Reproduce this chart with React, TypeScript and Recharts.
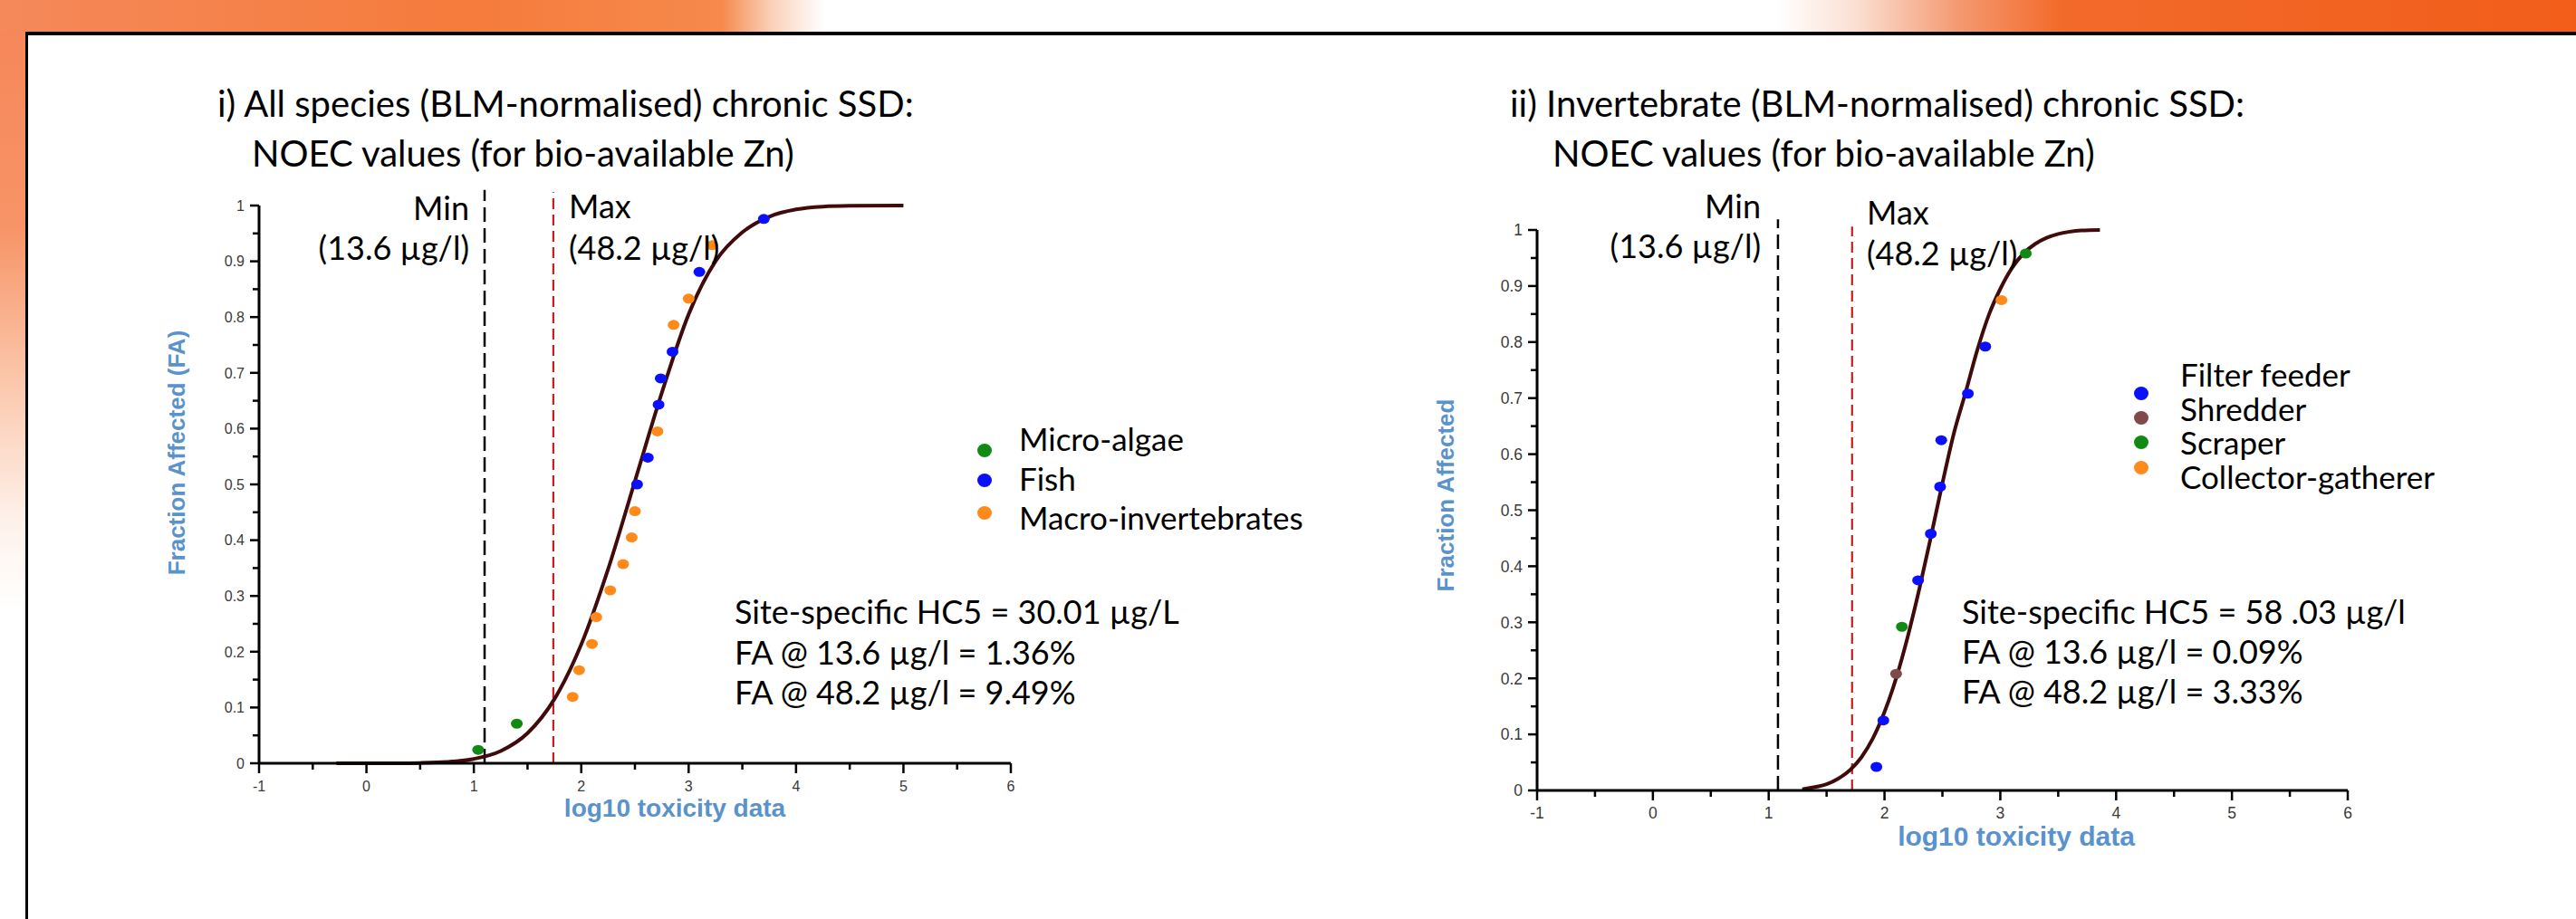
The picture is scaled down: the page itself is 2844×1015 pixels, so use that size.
import React from "react";
import { ComposedChart, Line, ReferenceLine, Scatter, XAxis, YAxis } from "recharts";

const X_TICKS = [-1, -0.5, 0, 0.5, 1, 1.5, 2, 2.5, 3, 3.5, 4, 4.5, 5, 5.5, 6];
const Y_TICKS = [
  0, 0.05, 0.1, 0.15, 0.2, 0.25, 0.3, 0.35, 0.4, 0.45, 0.5, 0.55, 0.6, 0.65, 0.7, 0.75, 0.8, 0.85,
  0.9, 0.95, 1,
];

// log10 of the min / max bio-available Zn, as drawn
const MIN_LOG = [1.1, 1.08];
const MAX_LOG = [1.74, 1.72];

// i) all species
const ALL_FIT_X = [-0.28, 0, 0.25, 0.5, 0.75, 1, 1.25, 1.5, 1.75, 2, 2.25, 2.5, 2.75, 3, 3.25, 3.5, 3.75, 4, 4.25, 4.5, 5];
const ALL_FIT_Y = [0, 0, 0.0001, 0.0006, 0.0024, 0.0078, 0.022, 0.054, 0.115, 0.213, 0.348, 0.506, 0.664, 0.805, 0.9, 0.952, 0.98, 0.993, 0.998, 0.9994, 1];
const ALGAE_X = [1.04, 1.4];
const ALGAE_Y = [0.024, 0.071];
const FISH_X = [2.52, 2.62, 2.72, 2.74, 2.85, 3.1, 3.7];
const FISH_Y = [0.5, 0.548, 0.643, 0.69, 0.738, 0.881, 0.976];
const MACRO_X = [1.92, 1.98, 2.1, 2.14, 2.27, 2.39, 2.47, 2.5, 2.71, 2.86, 3.0, 3.22];
const MACRO_Y = [0.119, 0.167, 0.214, 0.262, 0.31, 0.357, 0.405, 0.452, 0.595, 0.786, 0.833, 0.929];

// ii) invertebrates
const INV_FIT_X = [1.29, 1.4, 1.5, 1.6, 1.7, 1.8, 1.9, 2, 2.1, 2.2, 2.3, 2.4, 2.5, 2.6, 2.7, 2.8, 2.9, 3, 3.1, 3.2, 3.3, 3.4, 3.5, 3.6, 3.7, 3.86];
const INV_FIT_Y = [0.002, 0.006, 0.011, 0.021, 0.036, 0.059, 0.093, 0.14, 0.2, 0.274, 0.359, 0.452, 0.548, 0.638, 0.71, 0.785, 0.848, 0.895, 0.932, 0.958, 0.975, 0.986, 0.993, 0.997, 0.999, 1];
const FILTER_X = [1.93, 1.99, 2.29, 2.4, 2.48, 2.49, 2.72, 2.87];
const FILTER_Y = [0.042, 0.125, 0.375, 0.458, 0.542, 0.625, 0.708, 0.792];
const SHREDDER_X = [2.1];
const SHREDDER_Y = [0.208];
const SCRAPER_X = [2.15, 3.22];
const SCRAPER_Y = [0.292, 0.958];
const COLLECTOR_X = [3.01];
const COLLECTOR_Y = [0.875];

const GREEN = "#118a14";
const BLUE = "#0a10ff";
const ORANGE = "#ff8a1c";
const BROWN = "#7e4a4a";
const FIT = "#420b0b";
const AXIS_TITLE = "#5a92cc";
const TICK_TEXT = "#3a3a3a";
const TEXT_FONT = "Lato, 'Open Sans', sans-serif";
const TICK_FONT = "'Liberation Sans', Arial, sans-serif";
const AXIS_BOX = 60;

const pts = (xs: number[], ys: number[]) => xs.map((x, i) => ({ x, y: ys[i] }));

type Group = { name: string; color: string; xs: number[]; ys: number[] };

const ALL_GROUPS: Group[] = [
  { name: "Micro-algae", color: GREEN, xs: ALGAE_X, ys: ALGAE_Y },
  { name: "Fish", color: BLUE, xs: FISH_X, ys: FISH_Y },
  { name: "Macro-invertebrates", color: ORANGE, xs: MACRO_X, ys: MACRO_Y },
];
const INV_GROUPS: Group[] = [
  { name: "Filter feeder", color: BLUE, xs: FILTER_X, ys: FILTER_Y },
  { name: "Shredder", color: BROWN, xs: SHREDDER_X, ys: SHREDDER_Y },
  { name: "Scraper", color: GREEN, xs: SCRAPER_X, ys: SCRAPER_Y },
  { name: "Collector-gatherer", color: ORANGE, xs: COLLECTOR_X, ys: COLLECTOR_Y },
];

function XTick(p: any) {
  const v = p.payload.value;
  const major = Number.isInteger(v);
  return (
    <g>
      <line x1={p.x} x2={p.x} y1={p.axisY} y2={p.axisY + (major ? 11 : 7)} stroke="#000" strokeWidth={2.5} />
      {major && (
        <text x={p.x} y={p.axisY + 25} dy="0.36em" textAnchor="middle" fontSize={p.fs} fontFamily={TICK_FONT} fill={TICK_TEXT}>
          {String(v)}
        </text>
      )}
    </g>
  );
}

function YTick(p: any) {
  const v = p.payload.value;
  const major = Math.round(v * 100) % 10 === 0;
  const label = v === 0 ? "0" : v === 1 ? "1" : v.toFixed(1);
  return (
    <g>
      <line x1={p.axisX - (major ? 10 : 7)} x2={p.axisX} y1={p.y} y2={p.y} stroke="#000" strokeWidth={2.5} />
      {major && (
        <text x={p.axisX - 16} y={p.y} dy="0.36em" textAnchor="end" fontSize={p.fs} fontFamily={TICK_FONT} fill={TICK_TEXT}>
          {label}
        </text>
      )}
    </g>
  );
}

function Panel(props: {
  width: number;
  plot: { left: number; top: number; right: number; bottom: number };
  fitX: number[];
  fitY: number[];
  groups: Group[];
  minLog: number;
  minTop: number;
  maxLog: number;
  maxTop: number;
  fs: number;
}) {
  const { width, plot, fs } = props;
  const margin = {
    top: plot.top,
    left: plot.left - AXIS_BOX,
    right: width - plot.right,
    bottom: 1015 - plot.bottom - AXIS_BOX,
  };
  return (
    <ComposedChart width={width} height={1015} margin={margin}>
      <XAxis
        type="number"
        dataKey="x"
        domain={[-1, 6]}
        ticks={X_TICKS}
        interval={0}
        height={AXIS_BOX}
        axisLine={{ stroke: "#000", strokeWidth: 3 }}
        tickLine={false}
        tick={(p: any) => <XTick {...p} axisY={plot.bottom} fs={fs} />}
      />
      <YAxis
        type="number"
        dataKey="y"
        domain={[0, 1]}
        ticks={Y_TICKS}
        interval={0}
        width={AXIS_BOX}
        axisLine={{ stroke: "#000", strokeWidth: 3 }}
        tickLine={false}
        tick={(p: any) => <YTick {...p} axisX={plot.left} fs={fs} />}
      />
      <ReferenceLine
        segment={[{ x: props.minLog, y: 0 }, { x: props.minLog, y: props.minTop }]}
        stroke="#000"
        strokeWidth={2.5}
        strokeDasharray="16 7"
        ifOverflow="visible"
      />
      <ReferenceLine
        segment={[{ x: props.maxLog, y: 0 }, { x: props.maxLog, y: props.maxTop }]}
        stroke="#cc1b1b"
        strokeWidth={2.2}
        strokeDasharray="12 6"
        ifOverflow="visible"
      />
      <Line
        data={pts(props.fitX, props.fitY)}
        dataKey="y"
        type="monotone"
        stroke={FIT}
        strokeWidth={4}
        dot={false}
        activeDot={false}
        isAnimationActive={false}
      />
      {props.groups.map((g) => (
        <Scatter
          key={g.name}
          name={g.name}
          data={pts(g.xs, g.ys)}
          fill={g.color}
          isAnimationActive={false}
          shape={(s: any) => <ellipse cx={s.cx} cy={s.cy} rx={6.5} ry={5.5} fill={g.color} />}
        />
      ))}
    </ComposedChart>
  );
}

const abs = (s: React.CSSProperties): React.CSSProperties => ({ position: "absolute", whiteSpace: "nowrap", ...s });

function Lines({ lines, style }: { lines: string[]; style: React.CSSProperties }) {
  return (
    <div style={abs({ fontFamily: TEXT_FONT, color: "#000", ...style })}>
      {lines.map((l) => (
        <div key={l}>{l}</div>
      ))}
    </div>
  );
}

function LegendBox(props: { groups: Group[]; markerX: number; markerYs: number[]; textX: number; textTop: number; lineH: number }) {
  return (
    <>
      {props.groups.map((g, i) => (
        <div
          key={g.name}
          style={abs({ left: props.markerX - 8, top: props.markerYs[i] - 7.5, width: 16, height: 15, borderRadius: "50%", background: g.color })}
        />
      ))}
      <Lines
        lines={props.groups.map((g) => g.name)}
        style={{ left: props.textX, top: props.textTop, fontSize: 35, lineHeight: `${props.lineH}px` }}
      />
    </>
  );
}

export default function App() {
  return (
    <div style={abs({ left: 0, top: 0, width: 2844, height: 1015, background: "#fff", overflow: "hidden" })}>
      <div
        style={abs({
          left: 0,
          top: 0,
          width: 2844,
          height: 36,
          background:
            "linear-gradient(90deg, #f5895a 0%, #f57b3c 18%, #f6894c 28%, #fbd2bb 30%, #ffffff 32%, #ffffff 69%, #fbe0d3 72%, #f49a72 76%, #f26a2a 80%, #f25d1a 100%)",
        })}
      />
      <div
        style={abs({
          left: 0,
          top: 36,
          width: 29,
          height: 979,
          background: "linear-gradient(180deg, #f6875a 0%, #f79467 22%, #fbc9ae 40%, #fef1ea 55%, #ffffff 65%)",
        })}
      />
      <div style={abs({ left: 28, top: 35, width: 2816, height: 4, background: "#000" })} />
      <div style={abs({ left: 28, top: 35, width: 3, height: 980, background: "#000" })} />

      <div style={abs({ left: 0, top: 0 })}>
        <Panel
          width={1400}
          plot={{ left: 286, top: 227, right: 1116, bottom: 843 }}
          fitX={ALL_FIT_X}
          fitY={ALL_FIT_Y}
          groups={ALL_GROUPS}
          minLog={MIN_LOG[0]}
          minTop={1.028}
          maxLog={MAX_LOG[0]}
          maxTop={1.024}
          fs={16}
        />
      </div>
      <div style={abs({ left: 1420, top: 0 })}>
        <Panel
          width={1424}
          plot={{ left: 277, top: 254, right: 1172, bottom: 873 }}
          fitX={INV_FIT_X}
          fitY={INV_FIT_Y}
          groups={INV_GROUPS}
          minLog={MIN_LOG[1]}
          minTop={1.019}
          maxLog={MAX_LOG[1]}
          maxTop={1.006}
          fs={17.5}
        />
      </div>

      {/* titles */}
      <Lines lines={["i) All species (BLM-normalised) chronic SSD:"]} style={{ left: 240, top: 86, fontSize: 40, lineHeight: "56px" }} />
      <Lines lines={["NOEC values (for bio-available Zn)"]} style={{ left: 278, top: 141, fontSize: 40, lineHeight: "56px" }} />
      <Lines lines={["ii) Invertebrate (BLM-normalised) chronic SSD:"]} style={{ left: 1667, top: 86, fontSize: 40, lineHeight: "56px" }} />
      <Lines lines={["NOEC values (for bio-available Zn)"]} style={{ left: 1714, top: 141, fontSize: 40, lineHeight: "56px" }} />

      {/* min / max markers */}
      <Lines lines={["Min", "(13.6 µg/l)"]} style={{ right: 2844 - 518, top: 207, fontSize: 36, lineHeight: "44px", textAlign: "right" }} />
      <Lines lines={["Max", "(48.2 µg/l)"]} style={{ left: 628, top: 204, fontSize: 36, lineHeight: "46px" }} />
      <Lines lines={["Min", "(13.6 µg/l)"]} style={{ right: 2844 - 1944, top: 205, fontSize: 36, lineHeight: "44px", textAlign: "right" }} />
      <Lines lines={["Max", "(48.2 µg/l)"]} style={{ left: 2061, top: 212, fontSize: 36, lineHeight: "45px" }} />

      {/* HC5 notes */}
      <Lines
        lines={["Site-specific HC5 = 30.01 µg/L", "FA @ 13.6 µg/l = 1.36%", "FA @ 48.2 µg/l = 9.49%"]}
        style={{ left: 811, top: 653, fontSize: 36, lineHeight: "44.5px" }}
      />
      <Lines
        lines={["Site-specific HC5 = 58 .03 µg/l", "FA @ 13.6 µg/l = 0.09%", "FA @ 48.2 µg/l = 3.33%"]}
        style={{ left: 2166, top: 653, fontSize: 36, lineHeight: "44px" }}
      />

      {/* legends */}
      <LegendBox groups={ALL_GROUPS} markerX={1087} markerYs={[497, 530, 566]} textX={1125} textTop={463} lineH={43.5} />
      <LegendBox groups={INV_GROUPS} markerX={2364} markerYs={[434, 461, 488, 516]} textX={2407} textTop={395} lineH={37.5} />

      {/* axis titles */}
      <div
        style={abs({
          left: 195,
          top: 500,
          transform: "translate(-50%, -50%) rotate(-90deg)",
          fontFamily: TICK_FONT,
          fontWeight: "bold",
          fontSize: 26,
          color: AXIS_TITLE,
        })}
      >
        Fraction Affected (FA)
      </div>
      <div
        style={abs({
          left: 1596,
          top: 547,
          transform: "translate(-50%, -50%) rotate(-90deg)",
          fontFamily: TICK_FONT,
          fontWeight: "bold",
          fontSize: 26,
          color: AXIS_TITLE,
        })}
      >
        Fraction Affected
      </div>
      <div
        style={abs({ left: 745, top: 893, transform: "translate(-50%, -50%)", fontFamily: TICK_FONT, fontWeight: "bold", fontSize: 28, color: AXIS_TITLE })}
      >
        log10 toxicity data
      </div>
      <div
        style={abs({ left: 2226, top: 924, transform: "translate(-50%, -50%)", fontFamily: TICK_FONT, fontWeight: "bold", fontSize: 30, color: AXIS_TITLE })}
      >
        log10 toxicity data
      </div>
    </div>
  );
}
